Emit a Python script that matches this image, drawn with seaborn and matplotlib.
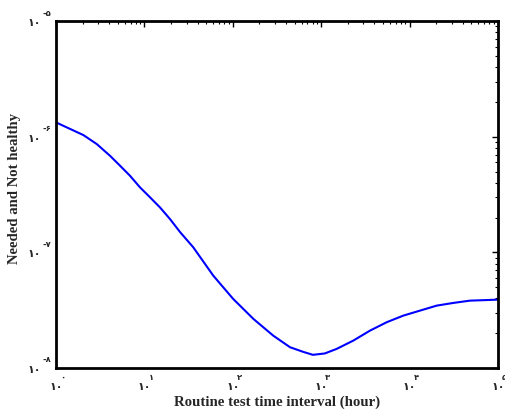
import matplotlib
matplotlib.use('Agg')
import matplotlib.pyplot as plt
import matplotlib.ticker as mticker
import seaborn as sns
import pandas as pd

# curve (hours vs probability)
hours = [1, 2.04, 2.89, 4.08, 5.30, 6.87, 8.92, 11.6, 15.0, 19.5, 25.3,
         35.7, 60.2, 101, 171, 287, 444, 630, 807, 1100, 1497, 2308, 3565,
         5508, 8489, 13113, 20256, 31218, 48236, 100000]
prob = [1.331e-6, 1.034e-6, 8.65e-7, 6.85e-7, 5.62e-7, 4.60e-7, 3.65e-7,
        2.99e-7, 2.45e-7, 1.94e-7, 1.50e-7, 1.107e-7, 6.29e-8, 3.96e-8,
        2.66e-8, 1.905e-8, 1.513e-8, 1.377e-8, 1.30e-8, 1.336e-8, 1.463e-8,
        1.725e-8, 2.104e-8, 2.487e-8, 2.837e-8, 3.134e-8, 3.462e-8,
        3.653e-8, 3.824e-8, 3.901e-8]

x_exps = [0, 1, 2, 3, 4, 5]
y_exps = [-8, -7, -6, -5]
x_sup = ['۰', '۱', '۲', '۳', '۴', '۵']
y_sup = ['-۸', '-۷', '-۶', '-۵']
base_label = '۱۰'

sns.set_style('white')
FAMILY = ['Liberation Serif', 'DejaVu Sans']
plt.rcParams['font.family'] = FAMILY

df = pd.DataFrame({'hours': hours, 'prob': prob})

fig = plt.figure(figsize=(5.06, 4.10), dpi=100)
ax = fig.add_axes([0.1107, 0.1, 0.8733, 0.846])
sns.lineplot(data=df, x='hours', y='prob', color='#0000ff', linewidth=1.5, ax=ax)

ax.set_xscale('log')
ax.set_yscale('log')
ax.set_xlim(1, 1e5)
ax.set_ylim(1e-8, 1e-5)

xt = [10.0 ** e for e in x_exps]
yt = [10.0 ** e for e in y_exps]
ax.set_xticks(xt)
ax.set_yticks(yt)
ax.set_xticklabels([base_label] * len(xt), fontsize=8, fontweight='bold', family=['DejaVu Sans'])
ax.set_yticklabels([base_label] * len(yt), fontsize=8, fontweight='bold', family=['DejaVu Sans'])
ax.xaxis.set_minor_locator(mticker.LogLocator(base=10, subs=range(2, 10), numticks=20))
ax.yaxis.set_minor_locator(mticker.LogLocator(base=10, subs=range(2, 10), numticks=20))
ax.xaxis.set_minor_formatter(mticker.NullFormatter())
ax.yaxis.set_minor_formatter(mticker.NullFormatter())

ax.tick_params(which='both', direction='in', top=True, right=True, color='black')
ax.tick_params(which='major', length=4, width=1)
ax.tick_params(which='minor', length=2, width=0.8)
ax.tick_params(axis='x', pad=9.5)
ax.tick_params(axis='y', pad=11)

for sp in ax.spines.values():
    sp.set_linewidth(2)
    sp.set_color('black')

# superscript exponents next to the "10" tick labels
for v, s in zip(xt, x_sup):
    ax.annotate(s, xy=(v, 0), xycoords=('data', 'axes fraction'),
                xytext=(3, -6), textcoords='offset points',
                fontsize=6, fontweight='bold', family=['DejaVu Sans'],
                ha='left', va='center', annotation_clip=False)
for v, s in zip(yt, y_sup):
    ax.annotate(s, xy=(0, v), xycoords=('axes fraction', 'data'),
                xytext=(-10, 6.5), textcoords='offset points',
                fontsize=6, fontweight='bold', family=['DejaVu Sans'],
                ha='left', va='center', annotation_clip=False)

ax.set_xlabel('Routine test time interval (hour)', fontsize=10.7, fontweight='bold')
ax.set_ylabel('Needed and Not healthy', fontsize=10.6, fontweight='bold')
ax.xaxis.set_label_coords(0.5, -0.077)
ax.yaxis.set_label_coords(-0.079, 0.52)

fig.savefig('out.png', dpi=100)
